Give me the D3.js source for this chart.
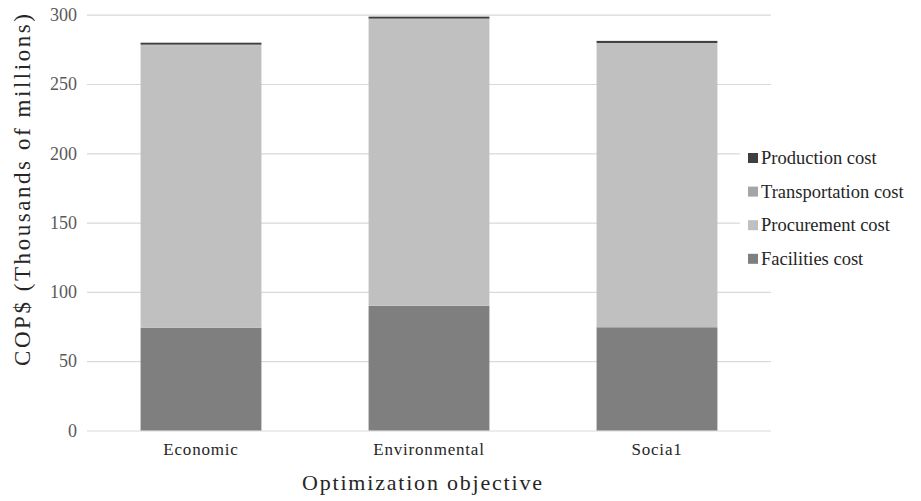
<!DOCTYPE html>
<html>
<head>
<meta charset="utf-8">
<script src="https://cdn.jsdelivr.net/npm/d3@7"></script>
<style>
  html, body { margin: 0; padding: 0; background: #fff; }
  svg { display: block; }
</style>
</head>
<body>
<svg id="chart" width="921" height="501" font-family="Liberation Serif, Times New Roman, serif"></svg>
<script>
// Cost breakdown per optimization objective (thousands of millions COP$)
const categories = ["Economic", "Environmental", "Socia1"];
const seriesNames = ["Facilities cost", "Procurement cost", "Transportation cost", "Production cost"];
const facilities = [74.2, 90.0, 74.5];
const procurement = [203.8, 206.8, 204.7];
const transportation = [0.4, 0.4, 0.4];
const production = [1.4, 1.4, 1.5];
const yTicks = [0, 50, 100, 150, 200, 250, 300];
const legendOrder = ["Production cost", "Transportation cost", "Procurement cost", "Facilities cost"];

const SERIF = "'Liberation Serif', 'Times New Roman', serif";

const colors = {
  "Facilities cost": "#7f7f7f",
  "Procurement cost": "#c0c0c0",
  "Transportation cost": "#a5a5a5",
  "Production cost": "#3f3f3f"
};

const rows = categories.map((c, i) => ({
  category: c,
  "Facilities cost": facilities[i],
  "Procurement cost": procurement[i],
  "Transportation cost": transportation[i],
  "Production cost": production[i]
}));

const svg = d3.select("#chart");
const plot = { left: 87, right: 771, top: 14.7, bottom: 430.5 };

const x = d3.scaleBand()
  .domain(categories)
  .range([plot.left, plot.right])
  .paddingInner(0.47)
  .paddingOuter(0.235);

const y = d3.scaleLinear()
  .domain([0, 300])
  .range([plot.bottom, plot.top]);

// horizontal gridlines with tick labels
const yAxis = d3.axisLeft(y)
  .tickValues(yTicks)
  .tickSize(-(plot.right - plot.left))
  .tickPadding(10);

const gy = svg.append("g")
  .attr("transform", `translate(${plot.left},0)`)
  .call(yAxis)
  .attr("font-family", null);
gy.select(".domain").remove();
gy.selectAll(".tick line").attr("stroke", "#d9d9d9").attr("stroke-width", 1.2);
gy.selectAll(".tick text")
  .attr("fill", "#595959")
  .style("font-size", "18px")
  .style("font-family", SERIF);

// stacked bars
const stack = d3.stack().keys(seriesNames);
const layers = stack(rows);

svg.append("g")
  .selectAll("g")
  .data(layers)
  .join("g")
  .attr("fill", d => colors[d.key])
  .selectAll("rect")
  .data(d => d)
  .join("rect")
  .attr("x", d => x(d.data.category))
  .attr("width", x.bandwidth())
  .attr("y", d => y(d[1]))
  .attr("height", d => y(d[0]) - y(d[1]));

// category axis
const xAxis = d3.axisBottom(x).tickSize(0).tickPadding(12);
const gx = svg.append("g")
  .attr("transform", `translate(0,${plot.bottom})`)
  .call(xAxis)
  .attr("font-family", null);
gx.select(".domain").remove();
gx.selectAll(".tick text")
  .attr("fill", "#262626")
  .style("font-size", "17px")
  .style("letter-spacing", "0.8px")
  .style("font-family", SERIF);

// axis titles
svg.append("text")
  .attr("x", 422)
  .attr("y", 490)
  .attr("text-anchor", "middle")
  .attr("fill", "#262626")
  .style("font-family", SERIF)
  .style("font-size", "22px")
  .attr("textLength", 240)
  .attr("lengthAdjust", "spacing")
  .text("Optimization  objective");

svg.append("text")
  .attr("transform", "translate(30,190) rotate(-90)")
  .attr("text-anchor", "middle")
  .attr("fill", "#262626")
  .style("font-family", SERIF)
  .style("font-size", "23px")
  .attr("textLength", 352)
  .attr("lengthAdjust", "spacing")
  .text("COP$  (Thousands of millions)");

// legend on a white panel
const legend = svg.append("g");
legend.append("rect")
  .attr("x", 740).attr("y", 138)
  .attr("width", 181).attr("height", 138)
  .attr("fill", "#fff");

const item = legend.selectAll("g.item")
  .data(legendOrder)
  .join("g")
  .attr("class", "item")
  .attr("transform", (d, i) => `translate(748,${158 + i * 33.6})`);

item.append("rect")
  .attr("x", 0).attr("y", -5)
  .attr("width", 10).attr("height", 10)
  .attr("fill", d => colors[d]);

item.append("text")
  .attr("x", 13)
  .attr("y", 6)
  .attr("fill", "#262626")
  .style("font-family", SERIF)
  .style("font-size", "18.5px")
  .text(d => d);
</script>
</body>
</html>
